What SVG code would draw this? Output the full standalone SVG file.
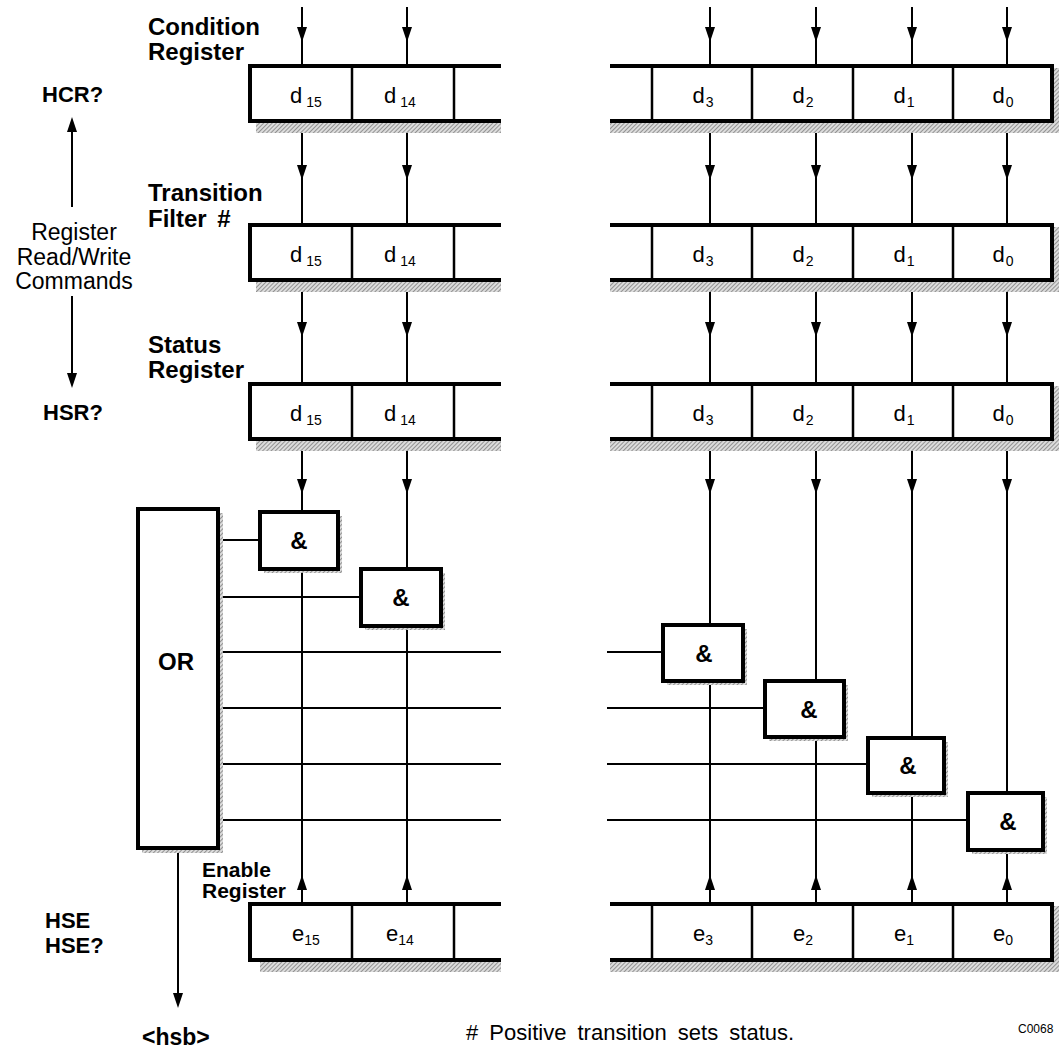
<svg xmlns="http://www.w3.org/2000/svg" width="1059" height="1053" viewBox="0 0 1059 1053">
<style>
text{font-family:"Liberation Sans",Arial,Helvetica,sans-serif;fill:#000}
.bl{font-weight:bold;font-size:24px}
.bs{font-weight:bold;font-size:21px}
.rl{font-size:23px}
.cell{font-size:22px;text-anchor:middle}
.sub{font-size:14px}
.amp{font-weight:bold;font-size:24px;text-anchor:middle}
.ln{stroke:#000;stroke-width:2;fill:none}
.edge{stroke:#000;stroke-width:4;fill:none}
.div{stroke:#000;stroke-width:2.5;fill:none}
.box{fill:#fff;stroke:#000;stroke-width:4}
.shd{fill:url(#hatch)}
</style>
<defs>
<pattern id="hatch" width="3" height="3" patternUnits="userSpaceOnUse" patternTransform="rotate(45)">
<rect width="3" height="3" fill="#dcdcdc"/>
<line x1="0" y1="0" x2="0" y2="3" stroke="#6a6a6a" stroke-width="1.3"/>
</pattern>
<path id="ad" d="M0,0 L-5,-15 L5,-15 Z" fill="#000"/>
<path id="au" d="M0,0 L-5,15 L5,15 Z" fill="#000"/>
</defs>
<rect width="1059" height="1053" fill="#fff"/>

<!-- Connectors -->
<g id="connectors">
<g class="ln">
<line x1="302" y1="7" x2="302" y2="66"/><line x1="407" y1="7" x2="407" y2="66"/>
<line x1="710" y1="7" x2="710" y2="66"/><line x1="816" y1="7" x2="816" y2="66"/>
<line x1="912" y1="7" x2="912" y2="66"/><line x1="1007" y1="7" x2="1007" y2="66"/>
<line x1="302" y1="121" x2="302" y2="225"/><line x1="407" y1="121" x2="407" y2="225"/>
<line x1="710" y1="121" x2="710" y2="225"/><line x1="816" y1="121" x2="816" y2="225"/>
<line x1="912" y1="121" x2="912" y2="225"/><line x1="1007" y1="121" x2="1007" y2="225"/>
<line x1="302" y1="280" x2="302" y2="384"/><line x1="407" y1="280" x2="407" y2="384"/>
<line x1="710" y1="280" x2="710" y2="384"/><line x1="816" y1="280" x2="816" y2="384"/>
<line x1="912" y1="280" x2="912" y2="384"/><line x1="1007" y1="280" x2="1007" y2="384"/>
<line x1="302" y1="439" x2="302" y2="512"/><line x1="407" y1="439" x2="407" y2="569"/>
<line x1="710" y1="439" x2="710" y2="625"/><line x1="816" y1="439" x2="816" y2="681"/>
<line x1="912" y1="439" x2="912" y2="738"/><line x1="1007" y1="439" x2="1007" y2="793"/>
<line x1="302" y1="569" x2="302" y2="904"/><line x1="407" y1="626" x2="407" y2="904"/>
<line x1="710" y1="681" x2="710" y2="904"/><line x1="816" y1="737" x2="816" y2="904"/>
<line x1="912" y1="793" x2="912" y2="904"/><line x1="1007" y1="850" x2="1007" y2="904"/>
<line x1="218" y1="540" x2="260" y2="540"/>
<line x1="218" y1="597" x2="361" y2="597"/>
<line x1="218" y1="652" x2="501" y2="652"/><line x1="607" y1="652" x2="663" y2="652"/>
<line x1="218" y1="708" x2="501" y2="708"/><line x1="607" y1="708" x2="765" y2="708"/>
<line x1="218" y1="764" x2="501" y2="764"/><line x1="607" y1="764" x2="868" y2="764"/>
<line x1="218" y1="820" x2="501" y2="820"/><line x1="607" y1="820" x2="968" y2="820"/>
<line x1="72" y1="120" x2="72" y2="207"/>
<line x1="72" y1="296" x2="72" y2="384"/>
<line x1="178" y1="848" x2="178" y2="1002"/>
</g>
<use href="#ad" x="302" y="42"/><use href="#ad" x="407" y="42"/>
<use href="#ad" x="710" y="42"/><use href="#ad" x="816" y="42"/>
<use href="#ad" x="912" y="42"/><use href="#ad" x="1007" y="42"/>
<use href="#ad" x="302" y="180"/><use href="#ad" x="407" y="180"/>
<use href="#ad" x="710" y="180"/><use href="#ad" x="816" y="180"/>
<use href="#ad" x="912" y="180"/><use href="#ad" x="1007" y="180"/>
<use href="#ad" x="302" y="337"/><use href="#ad" x="407" y="337"/>
<use href="#ad" x="710" y="337"/><use href="#ad" x="816" y="337"/>
<use href="#ad" x="912" y="337"/><use href="#ad" x="1007" y="337"/>
<use href="#ad" x="302" y="494"/><use href="#ad" x="407" y="494"/>
<use href="#ad" x="710" y="494"/><use href="#ad" x="816" y="494"/>
<use href="#ad" x="912" y="494"/><use href="#ad" x="1007" y="494"/>
<use href="#au" x="302" y="875"/><use href="#au" x="407" y="875"/>
<use href="#au" x="710" y="875"/><use href="#au" x="816" y="875"/>
<use href="#au" x="912" y="875"/><use href="#au" x="1007" y="875"/>
<use href="#au" x="72" y="117"/>
<use href="#ad" x="72" y="388"/>
<use href="#ad" x="178" y="1008"/>
</g>

<!-- Registers -->
<g id="reg-condition">
<rect class="shd" x="256" y="122" width="245" height="11"/>
<rect class="shd" x="610" y="122" width="449" height="11"/>
<rect class="shd" x="1053" y="68" width="6" height="56"/>
<rect x="250" y="66" width="251" height="55" fill="#fff"/>
<rect x="610" y="66" width="442" height="55" fill="#fff"/>
<path class="edge" d="M501,66 H250 V121 H501 M610,66 H1052 V121 H610"/>
<path class="div" d="M352,66 V121 M454,66 V121 M652,66 V121 M752,66 V121 M853,66 V121 M953,66 V121"/>
<text class="cell" x="306" y="103">d<tspan class="sub" dx="4" dy="4">15</tspan></text>
<text class="cell" x="400" y="103">d<tspan class="sub" dx="4" dy="4">14</tspan></text>
<text class="cell" x="703" y="103">d<tspan class="sub" dx="1" dy="4">3</tspan></text>
<text class="cell" x="803" y="103">d<tspan class="sub" dx="1" dy="4">2</tspan></text>
<text class="cell" x="904" y="103">d<tspan class="sub" dx="1" dy="4">1</tspan></text>
<text class="cell" x="1003" y="103">d<tspan class="sub" dx="1" dy="4">0</tspan></text>
</g>

<g id="reg-transition">
<rect class="shd" x="256" y="281" width="245" height="11"/>
<rect class="shd" x="610" y="281" width="449" height="11"/>
<rect class="shd" x="1053" y="227" width="6" height="56"/>
<rect x="250" y="225" width="251" height="55" fill="#fff"/>
<rect x="610" y="225" width="442" height="55" fill="#fff"/>
<path class="edge" d="M501,225 H250 V280 H501 M610,225 H1052 V280 H610"/>
<path class="div" d="M352,225 V280 M454,225 V280 M652,225 V280 M752,225 V280 M853,225 V280 M953,225 V280"/>
<text class="cell" x="306" y="262">d<tspan class="sub" dx="4" dy="4">15</tspan></text>
<text class="cell" x="400" y="262">d<tspan class="sub" dx="4" dy="4">14</tspan></text>
<text class="cell" x="703" y="262">d<tspan class="sub" dx="1" dy="4">3</tspan></text>
<text class="cell" x="803" y="262">d<tspan class="sub" dx="1" dy="4">2</tspan></text>
<text class="cell" x="904" y="262">d<tspan class="sub" dx="1" dy="4">1</tspan></text>
<text class="cell" x="1003" y="262">d<tspan class="sub" dx="1" dy="4">0</tspan></text>
</g>

<g id="reg-status">
<rect class="shd" x="256" y="440" width="245" height="11"/>
<rect class="shd" x="610" y="440" width="449" height="11"/>
<rect class="shd" x="1053" y="386" width="6" height="56"/>
<rect x="250" y="384" width="251" height="55" fill="#fff"/>
<rect x="610" y="384" width="442" height="55" fill="#fff"/>
<path class="edge" d="M501,384 H250 V439 H501 M610,384 H1052 V439 H610"/>
<path class="div" d="M352,384 V439 M454,384 V439 M652,384 V439 M752,384 V439 M853,384 V439 M953,384 V439"/>
<text class="cell" x="306" y="421">d<tspan class="sub" dx="4" dy="4">15</tspan></text>
<text class="cell" x="400" y="421">d<tspan class="sub" dx="4" dy="4">14</tspan></text>
<text class="cell" x="703" y="421">d<tspan class="sub" dx="1" dy="4">3</tspan></text>
<text class="cell" x="803" y="421">d<tspan class="sub" dx="1" dy="4">2</tspan></text>
<text class="cell" x="904" y="421">d<tspan class="sub" dx="1" dy="4">1</tspan></text>
<text class="cell" x="1003" y="421">d<tspan class="sub" dx="1" dy="4">0</tspan></text>
</g>

<g id="reg-enable">
<rect class="shd" x="260" y="961" width="241" height="11"/>
<rect class="shd" x="610" y="961" width="449" height="11"/>
<rect class="shd" x="1053" y="906" width="6" height="57"/>
<rect x="250" y="904" width="251" height="56" fill="#fff"/>
<rect x="610" y="904" width="442" height="56" fill="#fff"/>
<path class="edge" d="M501,904 H250 V960 H501 M610,904 H1052 V960 H610"/>
<path class="div" d="M352,904 V960 M454,904 V960 M652,904 V960 M752,904 V960 M853,904 V960 M953,904 V960"/>
<text class="cell" x="306" y="941">e<tspan class="sub" dx="0" dy="4">15</tspan></text>
<text class="cell" x="400" y="941">e<tspan class="sub" dx="0" dy="4">14</tspan></text>
<text class="cell" x="703" y="941">e<tspan class="sub" dx="0" dy="4">3</tspan></text>
<text class="cell" x="803" y="941">e<tspan class="sub" dx="0" dy="4">2</tspan></text>
<text class="cell" x="904" y="941">e<tspan class="sub" dx="0" dy="4">1</tspan></text>
<text class="cell" x="1003" y="941">e<tspan class="sub" dx="0" dy="4">0</tspan></text>
</g>

<!-- OR gate -->
<g id="or-gate">
<rect class="shd" x="142" y="513" width="81" height="340"/>
<rect class="box" x="138" y="509" width="80" height="339"/>
<text class="amp" x="176" y="670">OR</text>
</g>

<!-- AND gates -->
<g id="and-15">
<rect class="shd" x="264" y="516" width="78" height="57"/>
<rect class="box" x="260" y="512" width="78" height="57"/>
<text class="amp" x="299" y="549">&amp;</text>
</g>
<g id="and-14">
<rect class="shd" x="365" y="573" width="80" height="57"/>
<rect class="box" x="361" y="569" width="80" height="57"/>
<text class="amp" x="401" y="606">&amp;</text>
</g>
<g id="and-3">
<rect class="shd" x="667" y="629" width="80" height="56"/>
<rect class="box" x="663" y="625" width="80" height="56"/>
<text class="amp" x="704" y="662">&amp;</text>
</g>
<g id="and-2">
<rect class="shd" x="769" y="685" width="79" height="56"/>
<rect class="box" x="765" y="681" width="79" height="56"/>
<text class="amp" x="809" y="718">&amp;</text>
</g>
<g id="and-1">
<rect class="shd" x="872" y="742" width="76" height="55"/>
<rect class="box" x="868" y="738" width="76" height="55"/>
<text class="amp" x="908" y="774">&amp;</text>
</g>
<g id="and-0">
<rect class="shd" x="972" y="797" width="75" height="57"/>
<rect class="box" x="968" y="793" width="75" height="57"/>
<text class="amp" x="1008" y="830">&amp;</text>
</g>

<!-- Labels -->
<g id="labels">
<text class="bl" x="148" y="35">Condition</text>
<text class="bl" x="148" y="60">Register</text>
<text class="bl" x="148" y="201">Transition</text>
<text class="bl" x="148" y="227">Filter <tspan dx="4">#</tspan></text>
<text class="bl" x="148" y="353">Status</text>
<text class="bl" x="148" y="378">Register</text>
<text class="bs" x="202" y="877">Enable</text>
<text class="bs" x="202" y="898">Register</text>
<text class="bl" x="42" y="102" style="font-size:22px">HCR?</text>
<text class="bl" x="43" y="420" style="font-size:22px">HSR?</text>
<text class="bl" x="45" y="928" style="font-size:22px">HSE</text>
<text class="bl" x="45" y="953" style="font-size:22px">HSE?</text>
<text class="rl" x="74" y="240" text-anchor="middle">Register</text>
<text class="rl" x="74" y="265" text-anchor="middle">Read/Write</text>
<text class="rl" x="74" y="289" text-anchor="middle">Commands</text>
<text class="bl" x="142" y="1045" style="font-size:23px">&lt;hsb&gt;</text>
<text class="rl" x="466" y="1040" style="font-size:22px;word-spacing:5px"># Positive transition sets status.</text>
<text x="1018" y="1033" style="font-size:12px">C0068</text>
</g>
</svg>
